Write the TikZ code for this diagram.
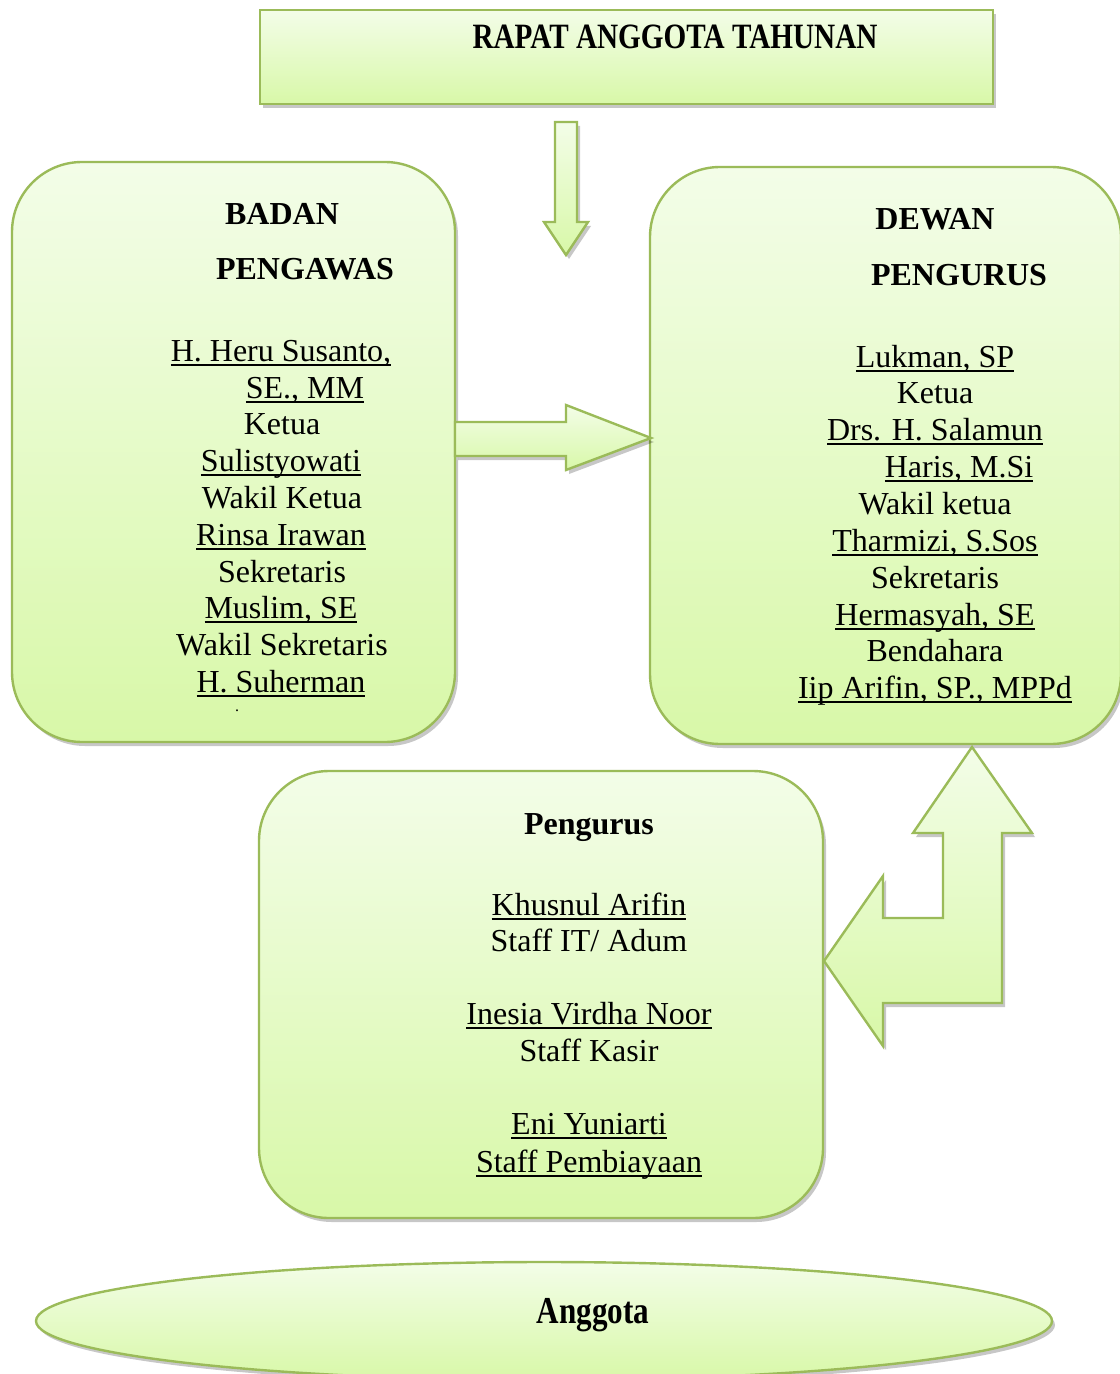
\documentclass[tikz,border=0pt]{standalone}
\usepackage{fontspec}
\setmainfont{Liberation Serif}
\newfontfamily\condfont[FakeStretch=0.82]{Liberation Serif}
\newsavebox{\ulbox}
\newcommand{\ulname}[1]{\sbox{\ulbox}{#1}\rlap{\rule[-2.5pt]{\wd\ulbox}{0.9pt}}\usebox{\ulbox}}
\usetikzlibrary{shadows,shapes.geometric}
\definecolor{edgegreen}{RGB}{155,187,89}
\definecolor{gtop}{RGB}{243,253,232}
\definecolor{gbot}{RGB}{216,248,168}
\begin{document}
\begin{tikzpicture}[x=0.5pt,y=-0.5pt,
  greenbox/.style={draw=edgegreen, line width=1.2pt, top color=gtop, bottom color=gbot,
    drop shadow={shadow xshift=1.5pt, shadow yshift=-2pt, opacity=0.22, fill=black}},
  roundbox/.style={greenbox, rounded corners=35pt, inner sep=0pt},
  txt/.style={anchor=base, inner sep=0pt, font=\fontsize{16}{18.5}\selectfont},
  head/.style={txt, font=\fontsize{16}{18.5}\selectfont\bfseries},
  condhead/.style={anchor=base, inner sep=0pt, font=\condfont\fontsize{17.8}{20}\selectfont\bfseries}]
\useasboundingbox (0,0) rectangle (1119,1374);

% boxes
\node[greenbox, inner sep=0pt, minimum width=366.5pt, minimum height=47pt] (rat) at (626.5,57) {};
\node[roundbox, minimum width=221.5pt, minimum height=290pt] (bp) at (233.5,452) {};
\node[roundbox, minimum width=235.5pt, minimum height=288.5pt] (dp) at (885.5,455.5) {};
\node[roundbox, minimum width=282pt, minimum height=223.5pt] (pg) at (541,994.5) {};
\node[greenbox, ellipse, inner sep=0pt, minimum width=508pt, minimum height=59pt] (ang) at (544,1321) {};

% block arrows
\path[greenbox, line join=miter] (555,122) -- (577,122) -- (577,222) -- (588,222) -- (566,255)
  -- (544,222) -- (555,222) -- cycle;
\path[greenbox, line join=miter] (455,422) -- (566,422) -- (566,405) -- (651,438) -- (566,470)
  -- (566,456) -- (455,456) -- cycle;
\path[greenbox, line join=miter] (972,747) -- (1032,833) -- (1002,833) -- (1002,1003) -- (883,1003)
  -- (883,1046) -- (824,961) -- (883,876) -- (883,918) -- (943,918) -- (943,833) -- (913,833) -- cycle;

% texts
\node[condhead] (ratt) at (675,49) {RAPAT ANGGOTA TAHUNAN};

\node[head] (bp1) at (282,225) {BADAN};
\node[head] (bp2) at (305,280) {PENGAWAS};
\node[txt] (bp3) at (281,361) {\ulname{H. Heru Susanto,}};
\node[txt] (bp4) at (305,398) {\ulname{SE., MM}};
\node[txt] (bp5) at (282,434) {Ketua};
\node[txt] (bp6) at (281,471) {\ulname{Sulistyowati}};
\node[txt] (bp7) at (282,508) {Wakil Ketua};
\node[txt] (bp8) at (281,545) {\ulname{Rinsa Irawan}};
\node[txt] (bp9) at (282,582) {Sekretaris};
\node[txt] (bp10) at (281,618) {\ulname{Muslim, SE}};
\node[txt] (bp11) at (282,655) {Wakil Sekretaris};
\node[txt] (bp12) at (281,692) {\ulname{H. Suherman}};
\node[anchor=base, inner sep=0pt, font=\fontsize{8}{9}\selectfont] (bpdot) at (237,711) {.};

\node[head] (dp1) at (935,230) {DEWAN};
\node[head] (dp2) at (959,286) {PENGURUS};
\node[txt] (dp3) at (935,367) {\ulname{Lukman, SP}};
\node[txt] (dp4) at (935,403) {Ketua};
\node[txt] (dp5) at (935,440) {\ulname{Drs. H. Salamun}};
\node[txt] (dp6) at (959,477) {\ulname{Haris, M.Si}};
\node[txt] (dp7) at (935,514) {Wakil ketua};
\node[txt] (dp8) at (935,551) {\ulname{Tharmizi, S.Sos}};
\node[txt] (dp9) at (935,588) {Sekretaris};
\node[txt] (dp10) at (935,625) {\ulname{Hermasyah, SE}};
\node[txt] (dp11) at (935,661) {Bendahara};
\node[txt] (dp12) at (935,698) {\ulname{Iip Arifin, SP., MPPd}};

\node[head] (pg1) at (589,834) {Pengurus};
\node[txt] (pg2) at (589,915) {\ulname{Khusnul Arifin}};
\node[txt] (pg3) at (589,951) {Staff IT/ Adum};
\node[txt] (pg4) at (589,1024) {\ulname{Inesia Virdha Noor}};
\node[txt] (pg5) at (589,1061) {Staff Kasir};
\node[txt] (pg6) at (589,1134) {\ulname{Eni Yuniarti}};
\node[txt] (pg7) at (589,1172) {\ulname{Staff Pembiayaan}};

\node[anchor=base, inner sep=0pt, font=\condfont\fontsize{19}{21}\selectfont\bfseries] (angt) at (593,1323) {Anggota};
\end{tikzpicture}
\end{document}
